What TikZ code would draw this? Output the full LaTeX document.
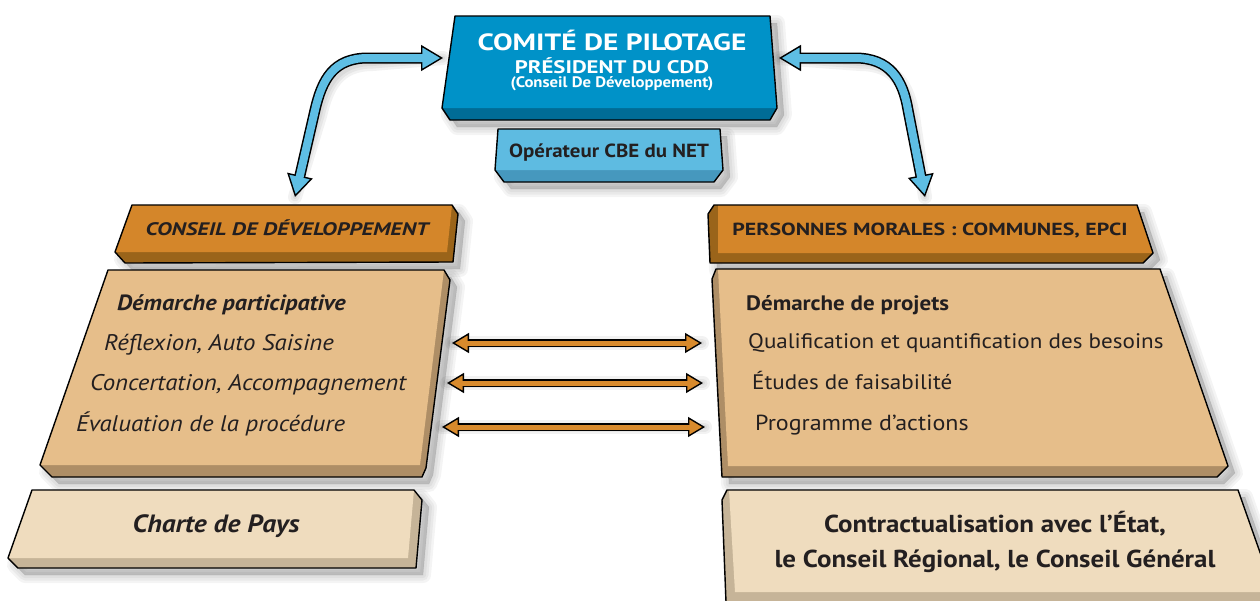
\documentclass[tikz,border=0pt]{standalone}
\usepackage{fontspec}
\setmainfont[FakeStretch=1.1]{PT Sans}
\newfontfamily\capsfont[FakeStretch=1.25]{PT Sans}
\usetikzlibrary{arrows.meta}
\definecolor{bluefc}{RGB}{0,146,200}
\definecolor{bluebd}{RGB}{0,108,150}
\definecolor{opfc}{RGB}{94,187,225}
\definecolor{opbd}{RGB}{70,152,190}
\definecolor{orfc}{RGB}{212,134,42}
\definecolor{orbd}{RGB}{154,100,26}
\definecolor{tanfc}{RGB}{230,190,138}
\definecolor{tanbd}{RGB}{174,142,102}
\definecolor{crfc}{RGB}{239,220,190}
\definecolor{crbd}{RGB}{198,180,152}
\definecolor{arrblue}{RGB}{94,190,228}
\definecolor{arror}{RGB}{216,138,44}
\definecolor{txdark}{RGB}{35,31,32}
% slab: #1 outline, #2 front face, #3 face colour, #4 side colour
\newcommand{\slab}[4]{%
  \foreach \w in {16,11,6,1}{\filldraw[black,opacity=0.045,line width=\w pt,line join=round,xshift=7pt,yshift=-7pt] #1 -- cycle;}
  \fill[#4] #1 -- cycle;
  \fill[#3] #2 -- cycle;
  \draw[black,line width=1.4pt,line join=round] #1 -- cycle;
}
% fat double arrow: #1 colour, #2 outer, #3 inner, #4 tip length, #5 tip width, #6 shorten, #7 path
\newcommand{\fatarrow}[7]{%
  \foreach \w in {14,9,4}{\draw[black,opacity=0.05,line width=\w pt,line cap=round,xshift=5pt,yshift=-6pt] #7;}
  \draw[black,line width=#2,shorten <=#6,shorten >=#6] #7;
  \draw[#1,line width=0.5pt,{Triangle[length=#4,width=#5,fill=#1,color=black,line width=1.4pt]}-{Triangle[length=#4,width=#5,fill=#1,color=black,line width=1.4pt]}] #7;
  \draw[#1,line width=#3,shorten <=#6,shorten >=#6] #7;
}
\tikzset{
  txt/.style={text=txdark,inner sep=0pt},
  head/.style={txt,anchor=base,font=\capsfont\bfseries\fontsize{17.5}{20}\selectfont},
  item/.style={txt,anchor=base west,font=\fontsize{21}{24}\selectfont},
  itemit/.style={item,font=\itshape\fontsize{22.6}{26}\selectfont}
}

\begin{document}
\begin{tikzpicture}[x=1pt,y=-1pt,line cap=round,line join=round]
  \useasboundingbox (0,0) rectangle (1260,600);
  \clip (0,0) rectangle (1260,600);
  % boxes
  \slab{(455,16) -- (770,16) -- (777,108) -- (770,120) -- (450,120) -- (442,108)}{(455,16) -- (770,16) -- (777,108) -- (442,108)}{bluefc}{bluebd}
  \slab{(498,129) -- (720,129) -- (723,170) -- (714,182) -- (504,182) -- (495,170)}{(498,129) -- (720,129) -- (723,170) -- (495,170)}{opfc}{opbd}
  \slab{(132,205) -- (452,205) -- (458,214) -- (453,262) -- (125,263) -- (115,252)}{(132,205) -- (452,205) -- (447,252) -- (115,252)}{orfc}{orbd}
  \slab{(714,205) -- (1137,205) -- (1153,253) -- (1143,263) -- (710,263) -- (708,214)}{(718,205) -- (1137,205) -- (1153,253) -- (718,253)}{orfc}{orbd}
  \slab{(108,270) -- (444,270) -- (450,280) -- (426,468) -- (422,477) -- (52,477) -- (40,465)}{(108,270) -- (444,270) -- (420,465) -- (40,465)}{tanfc}{tanbd}
  \slab{(716,269) -- (1160,269) -- (1228,466) -- (1217,477) -- (722,477) -- (712,279)}{(718,269) -- (1160,269) -- (1228,466) -- (728,466)}{tanfc}{tanbd}
  \slab{(32,490) -- (414,490) -- (422,500) -- (416,568) -- (18,568) -- (8,558)}{(32,490) -- (414,490) -- (408,558) -- (8,558)}{crfc}{crbd}
  \slab{(727,490) -- (1238,490) -- (1274,592) -- (1264,602) -- (726,602) -- (722,500)}{(729,490) -- (1238,490) -- (1274,592) -- (735,592)}{crfc}{crbd}
  % texts
  \node[txt,text=white,anchor=base,font=\capsfont\bfseries\fontsize{23.5}{26}\selectfont] (copil) at (612,50) {COMITÉ DE PILOTAGE};
  \node[txt,text=white,anchor=base,font=\capsfont\bfseries\fontsize{18.2}{21}\selectfont] (pres) at (612,73) {PRÉSIDENT DU CDD};
  \node[txt,text=white,anchor=base,font=\bfseries\fontsize{15.2}{18}\selectfont] (cdd) at (612,87) {(Conseil De Développement)};
  \node[txt,anchor=base,font=\bfseries\fontsize{19}{22}\selectfont] (oper) at (609,157) {Opérateur CBE du NET};
  \node[head,font=\capsfont\bfseries\itshape\fontsize{18.1}{20}\selectfont] (hcd) at (287,235) {CONSEIL DE DÉVELOPPEMENT};
  \node[head] (hpm) at (930,235) {PERSONNES MORALES : COMMUNES, EPCI};
  \node[item,font=\bfseries\itshape\fontsize{22}{26}\selectfont] (dpart) at (117,310) {Démarche participative};
  \node[itemit] (refl) at (104,350) {Réflexion, Auto Saisine};
  \node[itemit] (conc) at (90,390) {Concertation, Accompagnement};
  \node[itemit] (eval) at (76,431) {Évaluation de la procédure};
  \node[item,font=\bfseries\fontsize{20.9}{24}\selectfont] (dproj) at (746,310) {Démarche de projets};
  \node[item] (qual) at (748,348) {Qualification et quantification des besoins};
  \node[item] (etud) at (752,389) {Études de faisabilité};
  \node[item,font=\fontsize{21.8}{24}\selectfont] (prog) at (755,430) {Programme d'actions};
  \node[txt,anchor=base,font=\bfseries\itshape\fontsize{25}{28}\selectfont] (charte) at (216,532) {Charte de Pays};
  \node[txt,align=center,font=\bfseries\fontsize{24.5}{35}\selectfont] (contr) at (995,542) {Contractualisation avec l'État,\\le Conseil Régional, le Conseil Général};
  % connectors
  \coordinate (cpl) at (443,58);
  \coordinate (cdl) at (295,197);
  \coordinate (cpr) at (779,58);
  \coordinate (cdr) at (925,197);
  \fatarrow{arrblue}{11pt}{8pt}{22pt}{26pt}{19pt}{(cdl) -- (315,110) .. controls (322,80) and (333,58) .. (368,58) -- (cpl)}
  \fatarrow{arrblue}{11pt}{8pt}{22pt}{26pt}{19pt}{(cpr) -- (855,58) .. controls (890,58) and (903,80) .. (908,110) -- (cdr)}
  \coordinate (la) at (452,343);
  \coordinate (ra) at (702,343);
  \coordinate (lb) at (447,383);
  \coordinate (rb) at (703,383);
  \coordinate (lc) at (442,427);
  \coordinate (rc) at (705,427);
  \foreach \a/\b in {la/ra,lb/rb,lc/rc}{
    \fatarrow{arror}{8pt}{5pt}{17pt}{20pt}{14pt}{(\a) -- (\b)}
  }
\end{tikzpicture}
\end{document}
